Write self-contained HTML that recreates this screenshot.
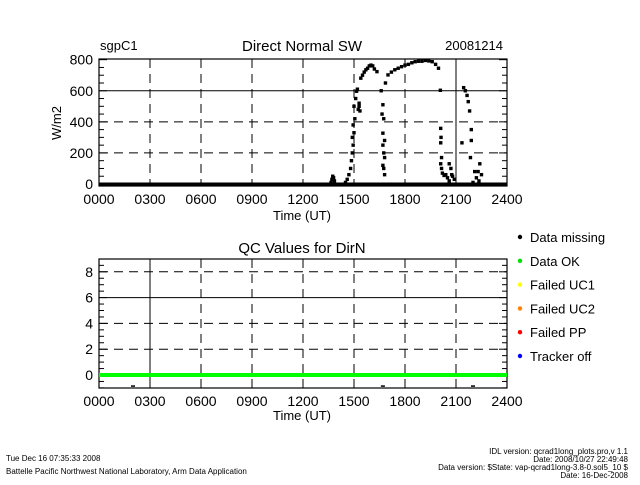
<!DOCTYPE html>
<html><head><meta charset="utf-8"><style>
body{margin:0;background:#fff;}
svg text{font-family:"Liberation Sans",sans-serif;fill:#000;}
</style></head><body>
<svg id="c" width="640" height="480" xmlns="http://www.w3.org/2000/svg">
<text x="100" y="50" font-size="13">sgpC1</text>
<text x="302" y="51" font-size="15" text-anchor="middle">Direct Normal SW</text>
<text x="503" y="50" font-size="13" text-anchor="end">20081214</text>
<text x="302" y="253" font-size="15" text-anchor="middle">QC Values for DirN</text>
<text transform="translate(61,123) rotate(-90)" font-size="13" text-anchor="middle">W/m2</text>
<text x="302" y="220" font-size="13" text-anchor="middle">Time (UT)</text>
<text x="302" y="420" font-size="13" text-anchor="middle">Time (UT)</text>
<g id="legend"></g>
<text x="6" y="461" font-size="8">Tue Dec 16 07:35:33 2008</text>
<text x="6" y="474" font-size="8">Battelle Pacific Northwest National Laboratory, Arm Data Application</text>
<text x="628" y="454" font-size="8" text-anchor="end">IDL version: qcrad1long_plots.pro,v 1.1</text>
<text x="628" y="462" font-size="8" text-anchor="end">Date: 2008/10/27 22:49:48</text>
<text x="628" y="470" font-size="8" text-anchor="end">Data version: $State: vap-qcrad1long-3.8-0.sol5_10 $</text>
<text x="628" y="478" font-size="8" text-anchor="end">Date: 16-Dec-2008</text>
</svg>
<script>
const xTicks=[0,3,6,9,12,15,18,21,24];
const xTickLabels=["0000","0300","0600","0900","1200","1500","1800","2100","2400"];
const topYTicks=[0,200,400,600,800];
const qcYTicks=[0,2,4,6,8];
const dirnTimes=[13.65,13.7,13.75,13.8,13.85,14.5,14.6,14.7,14.8,14.85,14.9,14.95,14.9,15.0,14.95,15.05,15.0,15.1,15.15,15.2,15.25,15.3,15.35,15.3,15.4,15.5,15.6,15.7,15.8,15.9,16.0,16.1,16.2,16.35,16.6,16.7,16.65,16.75,16.7,16.8,16.7,16.75,16.8,16.7,16.75,16.8,16.85,17.0,17.2,17.4,17.6,17.8,18.0,18.2,18.4,18.6,18.8,19.0,19.2,19.4,19.6,19.8,19.97,20.08,20.1,20.12,20.1,20.15,20.1,20.15,20.2,20.3,20.4,20.5,20.6,20.7,20.8,20.9,20.6,20.75,21.45,21.55,21.65,21.72,21.8,21.9,21.35,21.9,21.85,22.4,22.3,22.1,22.2,22.5,22.35,22.0];
const dirnValues=[10,30,50,40,20,10,30,60,100,150,200,250,300,330,380,420,500,550,597,610,480,500,470,520,681,700,720,735,745,760,765,760,740,723,600,510,450,420,327,280,250,200,170,120,100,60,650,702,720,735,745,755,765,770,780,787,790,790,795,792,787,770,745,603,358,300,265,170,130,100,70,55,60,40,130,100,50,30,20,60,620,600,570,530,470,350,265,280,170,130,80,80,40,60,20,10];
const zeroLineT=[0,24];
const zeroLineV=[0,0];
const qcOkT=[0,24];
const qcOkV=[0,0];
const qcMissT=[2.0,16.7,22.0];
const qcMissV=[-0.8,-0.8,-0.8];
const legendLabels=["Data missing","Data OK","Failed UC1","Failed UC2","Failed PP","Tracker off"];
const legendColors=["#000","#00e000","#ffff00","#ff8000","#ff0000","#0000ff"];

const svg=document.getElementById('c');
const NS="http://www.w3.org/2000/svg";
function mk(t,a,p){const e=document.createElementNS(NS,t);for(const k in a)e.setAttribute(k,a[k]);(p||svg).appendChild(e);return e;}
const X0=99,X1=507;
const xs=h=>X0+(h/24)*(X1-X0);
const ys1=v=>184-v*0.1554;
const ys2=v=>375-v*12.9;

function panel(name,ys,yb,yt,yTicks,minorStep,ymin,ymax,solidX,solidY){
  const g=mk('g',{});
  
  
  xTicks.slice(1,-1).forEach(h=>{
    const l=mk('line',{x1:xs(h),x2:xs(h),y1:yt,y2:yb,stroke:'#000','stroke-width':1,'stroke-dasharray':h===solidX?'':'9,6'},g);
    
    
  });
  yTicks.forEach(v=>{
    if(ys(v)<=yt+1||v===0)return;
    const l=mk('line',{x1:X0,x2:X1,y1:ys(v),y2:ys(v),stroke:'#000','stroke-width':1,'stroke-dasharray':v===solidY?'':'9,6'},g);
    
    
  });
  for(let v=Math.ceil(ymin/minorStep)*minorStep;v<=ymax;v+=minorStep){
    const y=ys(v);if(y<yt||y>yb)continue;
    const len=(yTicks.indexOf(v)>=0)?8:5;
    mk('line',{x1:X0,x2:X0+len,y1:y,y2:y,stroke:'#000'},g);
    mk('line',{x1:X1,x2:X1-len,y1:y,y2:y,stroke:'#000'},g);
  }
  xTicks.forEach(h=>{mk('line',{x1:xs(h),x2:xs(h),y1:yb,y2:yb-6,stroke:'#000'},g);});
  const frame=mk('rect',{x:X0,y:yt,width:X1-X0,height:yb-yt,fill:'none',stroke:'#000','stroke-width':1.2},g);
  
  
  yTicks.forEach(v=>{
    const t=mk('text',{x:X0-6,y:ys(v)+5,'font-size':14,'text-anchor':'end'},g);t.textContent=v;
    
    
  });
  xTicks.forEach((h,i)=>{
    const t=mk('text',{x:xs(h),y:yb+18,'font-size':14,'text-anchor':'middle'},g);t.textContent=xTickLabels[i];
    
    
  });
  return g;
}
const g1=panel('dirn-panel',ys1,186,59,topYTicks,50,-10,800,21,600);
const g2=panel('qc-panel',ys2,388,259,qcYTicks,0.5,-1,9,3,6);

const zl=mk('line',{x1:xs(zeroLineT[0]),x2:xs(zeroLineT[1]),y1:ys1(zeroLineV[0]),y2:ys1(zeroLineV[1]),stroke:'#000','stroke-width':3});


dirnTimes.forEach((t,i)=>{
  const r=mk('rect',{x:xs(t)-1.7,y:ys1(dirnValues[i])-1.7,width:3.4,height:3.4,fill:'#000'});
  
  
});
const ok=mk('line',{x1:xs(qcOkT[0]),x2:xs(qcOkT[1]),y1:ys2(qcOkV[0]),y2:ys2(qcOkV[1]),stroke:'#00ff00','stroke-width':4});


qcMissT.forEach((t,i)=>{
  const r=mk('rect',{x:xs(t)-2,y:ys2(qcMissV[i]),width:4,height:1.5,fill:'#000'});
  
  
});
const lg=document.getElementById('legend');
legendLabels.forEach((s,i)=>{
  const y=237+i*23.8;
  const it=mk('g',{},lg);
  
  
  mk('circle',{cx:520,cy:y,r:2.2,fill:legendColors[i]},it);
  const t=mk('text',{x:530,y:y+5,'font-size':13},it);t.textContent=s;
});
</script>
</body></html>
